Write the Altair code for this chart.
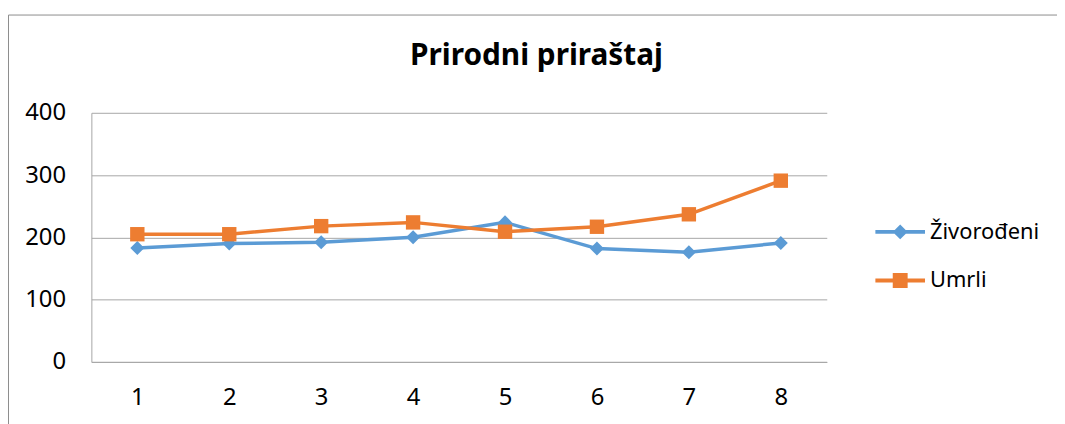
import altair as alt
import pandas as pd

categories = [1, 2, 3, 4, 5, 6, 7, 8]
zivorodeni = [183, 190, 192, 200, 224, 182, 176, 191]
umrli = [205, 205, 218, 224, 209, 217, 237, 291]
series_names = ["Živorođeni", "Umrli"]
y_ticks = [0, 100, 200, 300, 400]

BLUE = "#5B9BD5"
ORANGE = "#ED7D31"
GRID = "#A6A6A6"
FONT = "Noto Sans"

df_z = pd.DataFrame({"cat": categories, "value": zivorodeni, "series": series_names[0]})
df_u = pd.DataFrame({"cat": categories, "value": umrli, "series": series_names[1]})
df = pd.concat([df_z, df_u], ignore_index=True)

x_enc = alt.X(
    "cat:O",
    scale=alt.Scale(type="point", padding=0.5),
    axis=alt.Axis(title=None, labelAngle=0, ticks=False, grid=False,
                  domain=True, domainColor=GRID, labelPadding=24),
)
y_enc = alt.Y(
    "value:Q",
    scale=alt.Scale(domain=[0, 400], nice=False),
    axis=alt.Axis(title=None, values=y_ticks, ticks=False, grid=True, gridColor=GRID,
                  domain=True, domainColor=GRID, labelPadding=26),
)

base = alt.Chart(df)

line_z = base.transform_filter(alt.datum.series == series_names[0]).mark_line(
    color=BLUE, strokeWidth=3.5,
    point=alt.OverlayMarkDef(shape="diamond", size=200, filled=True, color=BLUE, opacity=1),
).encode(x=x_enc, y=y_enc)

line_u = base.transform_filter(alt.datum.series == series_names[1]).mark_line(
    color=ORANGE, strokeWidth=3.5,
    point=alt.OverlayMarkDef(shape="square", size=210, filled=True, color=ORANGE, opacity=1),
).encode(x=x_enc, y=y_enc)

path_diamond = ("M-1,-0.08L1,-0.08L1,0.08L-1,0.08Z "
                "M0,-0.3L0.3,0L0,0.3L-0.3,0Z")
path_square = ("M-1,-0.08L1,-0.08L1,0.08L-1,0.08Z "
               "M-0.3,-0.3L0.3,-0.3L0.3,0.3L-0.3,0.3Z")

legend_props = dict(
    title=None, orient="none", legendX=790, legendY=95,
    symbolSize=2500, symbolStrokeWidth=0, labelFont=FONT, labelFontSize=22,
    labelColor="black", labelOffset=5, rowPadding=13, padding=0,
)

legend_layer = base.transform_filter("false").mark_point(filled=True, opacity=1).encode(
    x=x_enc,
    y=y_enc,
    color=alt.Color(
        "series:N",
        scale=alt.Scale(domain=series_names, range=[BLUE, ORANGE]),
        legend=alt.Legend(**legend_props),
    ),
    shape=alt.Shape(
        "series:N",
        scale=alt.Scale(domain=series_names, range=[path_diamond, path_square]),
        legend=alt.Legend(**legend_props),
    ),
)

frame = alt.Chart(alt.Data(values=[{}])).mark_rect(
    filled=False, stroke="#8C8C8C", strokeWidth=1
).encode(
    x=alt.value(-83.5), x2=alt.value(978), y=alt.value(-98.5), y2=alt.value(330)
)

chart = alt.layer(frame, line_z, line_u, legend_layer).properties(
    width=741,
    height=251,
    padding={"left": 84, "top": 104, "right": 232, "bottom": 61},
    autosize=alt.AutoSizeParams(type="none"),
    title=alt.Title(
        "Prirodni priraštaj", font=FONT, fontSize=30, fontWeight="bold", color="black",
        anchor="middle", frame="group", dx=78, offset=-81, baseline="alphabetic",
    ),
).configure_view(stroke=None).configure_axis(
    labelFont=FONT, labelFontSize=24, labelColor="black"
)

chart.save("out.html", embed_options={"renderer": "svg", "actions": False})
